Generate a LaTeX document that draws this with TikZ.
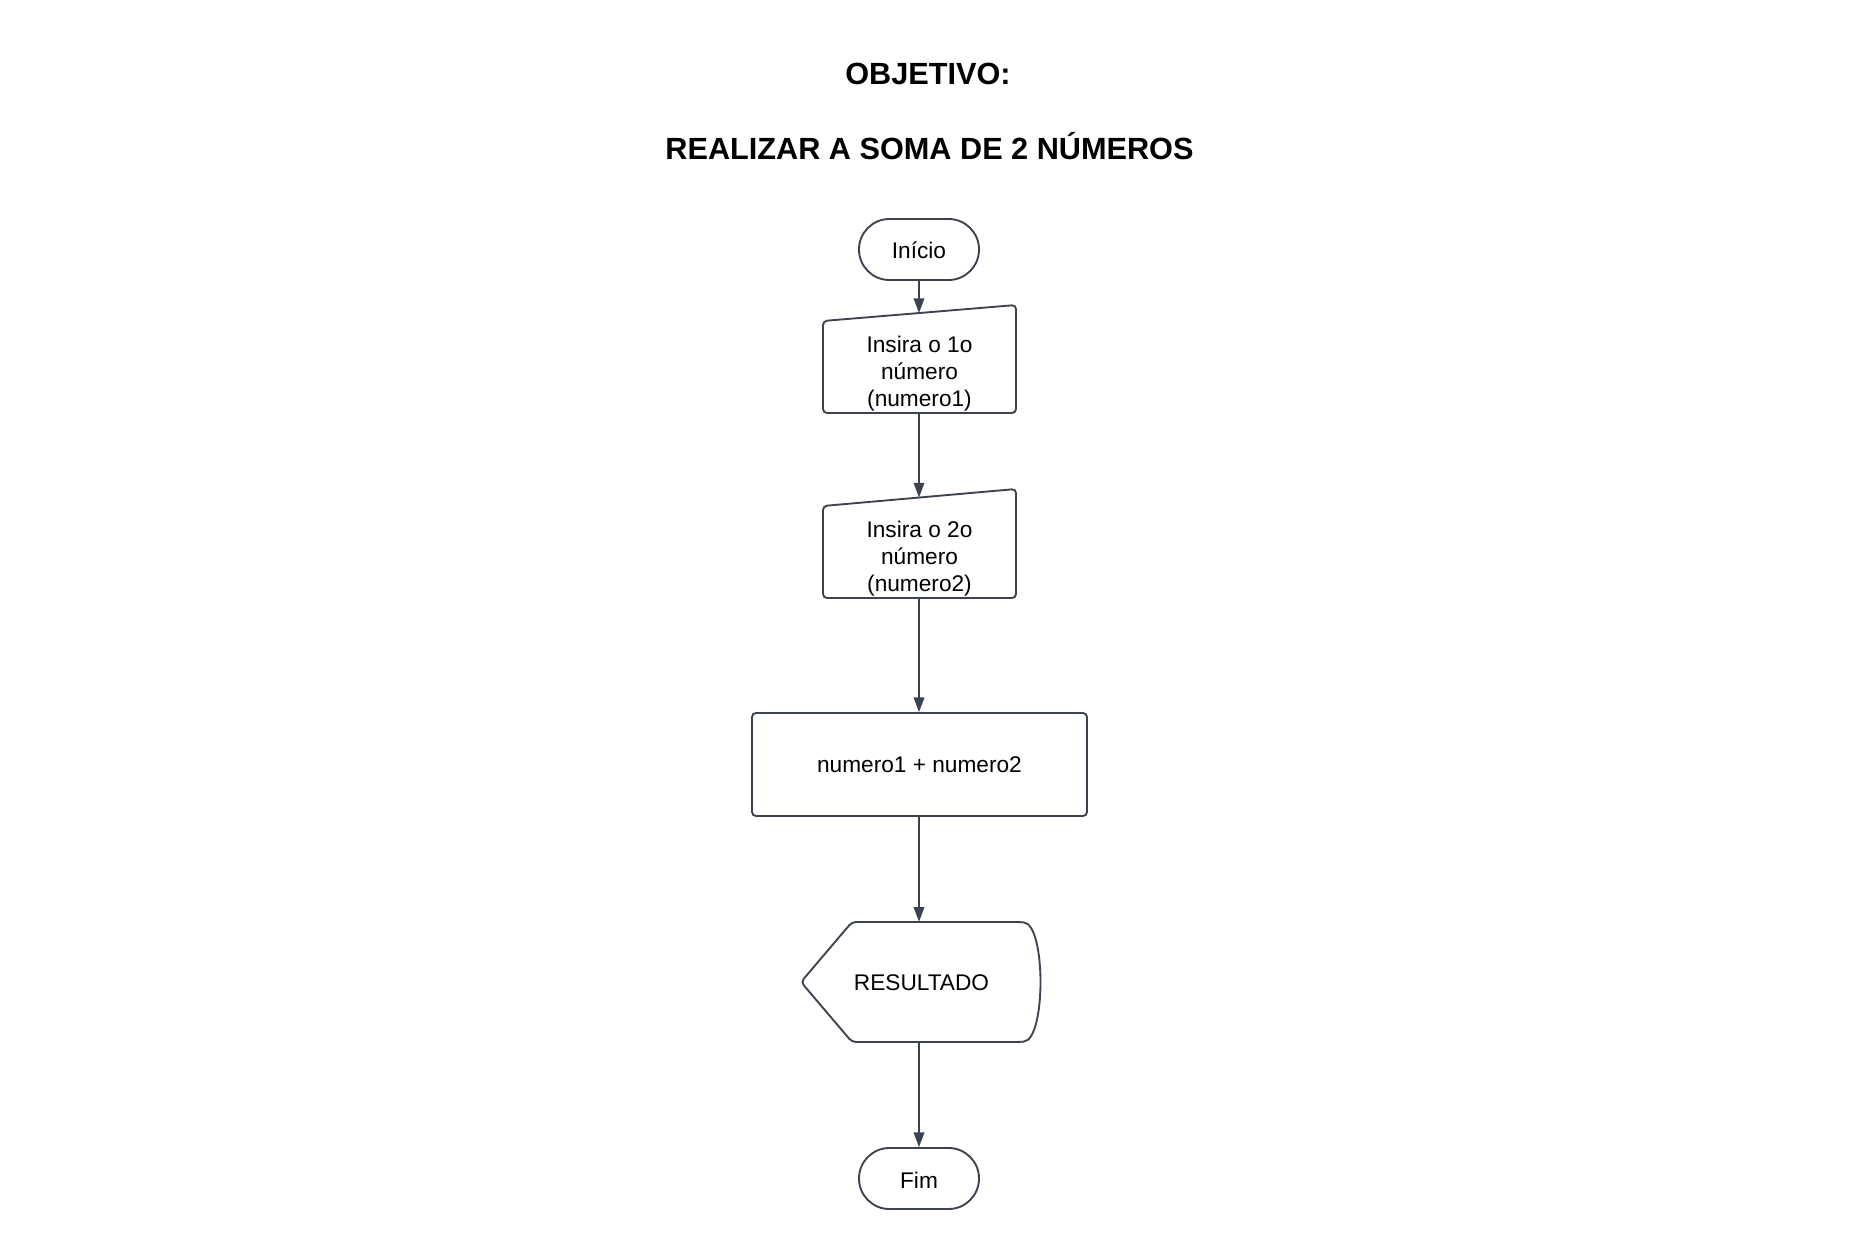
\documentclass[tikz,border=0pt]{standalone}
\usepackage{fontspec}
\setmainfont{Liberation Sans}
\usetikzlibrary{arrows.meta}
\definecolor{ln}{HTML}{3C434F}
\begin{document}
\begin{tikzpicture}[x=0.75pt,y=-0.75pt,
  shapeline/.style={draw=ln, line width=1.4pt, fill=white},
  txt/.style={font=\fontsize{17}{19.9}\selectfont, anchor=base, inner sep=0pt, align=center},
  ttl/.style={font=\fontsize{23}{27}\selectfont\bfseries, anchor=base, inner sep=0pt},
  flow/.style={draw=ln, line width=1pt, -{Triangle[width=8pt,length=11pt]}},
  term/.style={shapeline, rounded corners=22.8pt, minimum width=90pt, minimum height=45.75pt, inner sep=0pt},
  procbox/.style={shapeline, rounded corners=3pt, minimum width=251.25pt, minimum height=77.25pt, inner sep=0pt},
  ghost/.style={draw=none, inner sep=0pt}
]
\useasboundingbox[fill=white] (0,0) rectangle (1860,1249);

% titles
\node[ttl] (t1) at (928,84) {OBJETIVO:};
\node[ttl] (t2) at (929.5,159.5) {REALIZAR A SOMA DE 2 NÚMEROS};

% start
\node[term] (inicio) at (919,249.5) {};
\node[txt] (inicioT) at (919,258) {Início};

% input 1
\draw[shapeline, rounded corners=3pt] (823,321) -- (1016,305) -- (1016,413) -- (823,413) -- cycle;
\node[ghost, minimum width=144.75pt, minimum height=81pt] (in1) at (919.5,359) {};
\coordinate (in1top) at (919,313);
\node[txt] (in1T) at (919.5,406) {Insira o 1o\\número\\(numero1)};

% input 2
\draw[shapeline, rounded corners=3pt] (823,506) -- (1016,489) -- (1016,598) -- (823,598) -- cycle;
\node[ghost, minimum width=144.75pt, minimum height=81.75pt] (in2) at (919.5,543.5) {};
\coordinate (in2top) at (919,497.5);
\node[txt] (in2T) at (919.5,591) {Insira o 2o\\número\\(numero2)};

% process
\node[procbox] (proc) at (919.5,764.5) {};
\node[txt] (procT) at (919.5,772.5) {numero1 + numero2};

% display
\draw[shapeline, rounded corners=3pt] (801,982) -- (852,922) -- (1020,922)
  .. controls (1046,925) and (1046,1039) .. (1020,1042) -- (852,1042) -- cycle;
\node[ghost, minimum width=179.25pt, minimum height=90pt] (disp) at (919,982) {};
\node[txt] (dispT) at (921.5,990) {RESULTADO};

% end
\node[term] (fim) at (919,1178.5) {};
\node[txt] (fimT) at (919,1188) {Fim};

% connectors
\draw[flow] (inicio.south) -- (in1top);
\draw[flow] (in1.south -| in1top) -- (in2top);
\draw[flow] (in2.south -| in2top) -- (proc.north -| in2top);
\draw[flow] (proc.south -| disp.north) -- (disp.north);
\draw[flow] (disp.south) -- (fim.north);
\end{tikzpicture}
\end{document}
